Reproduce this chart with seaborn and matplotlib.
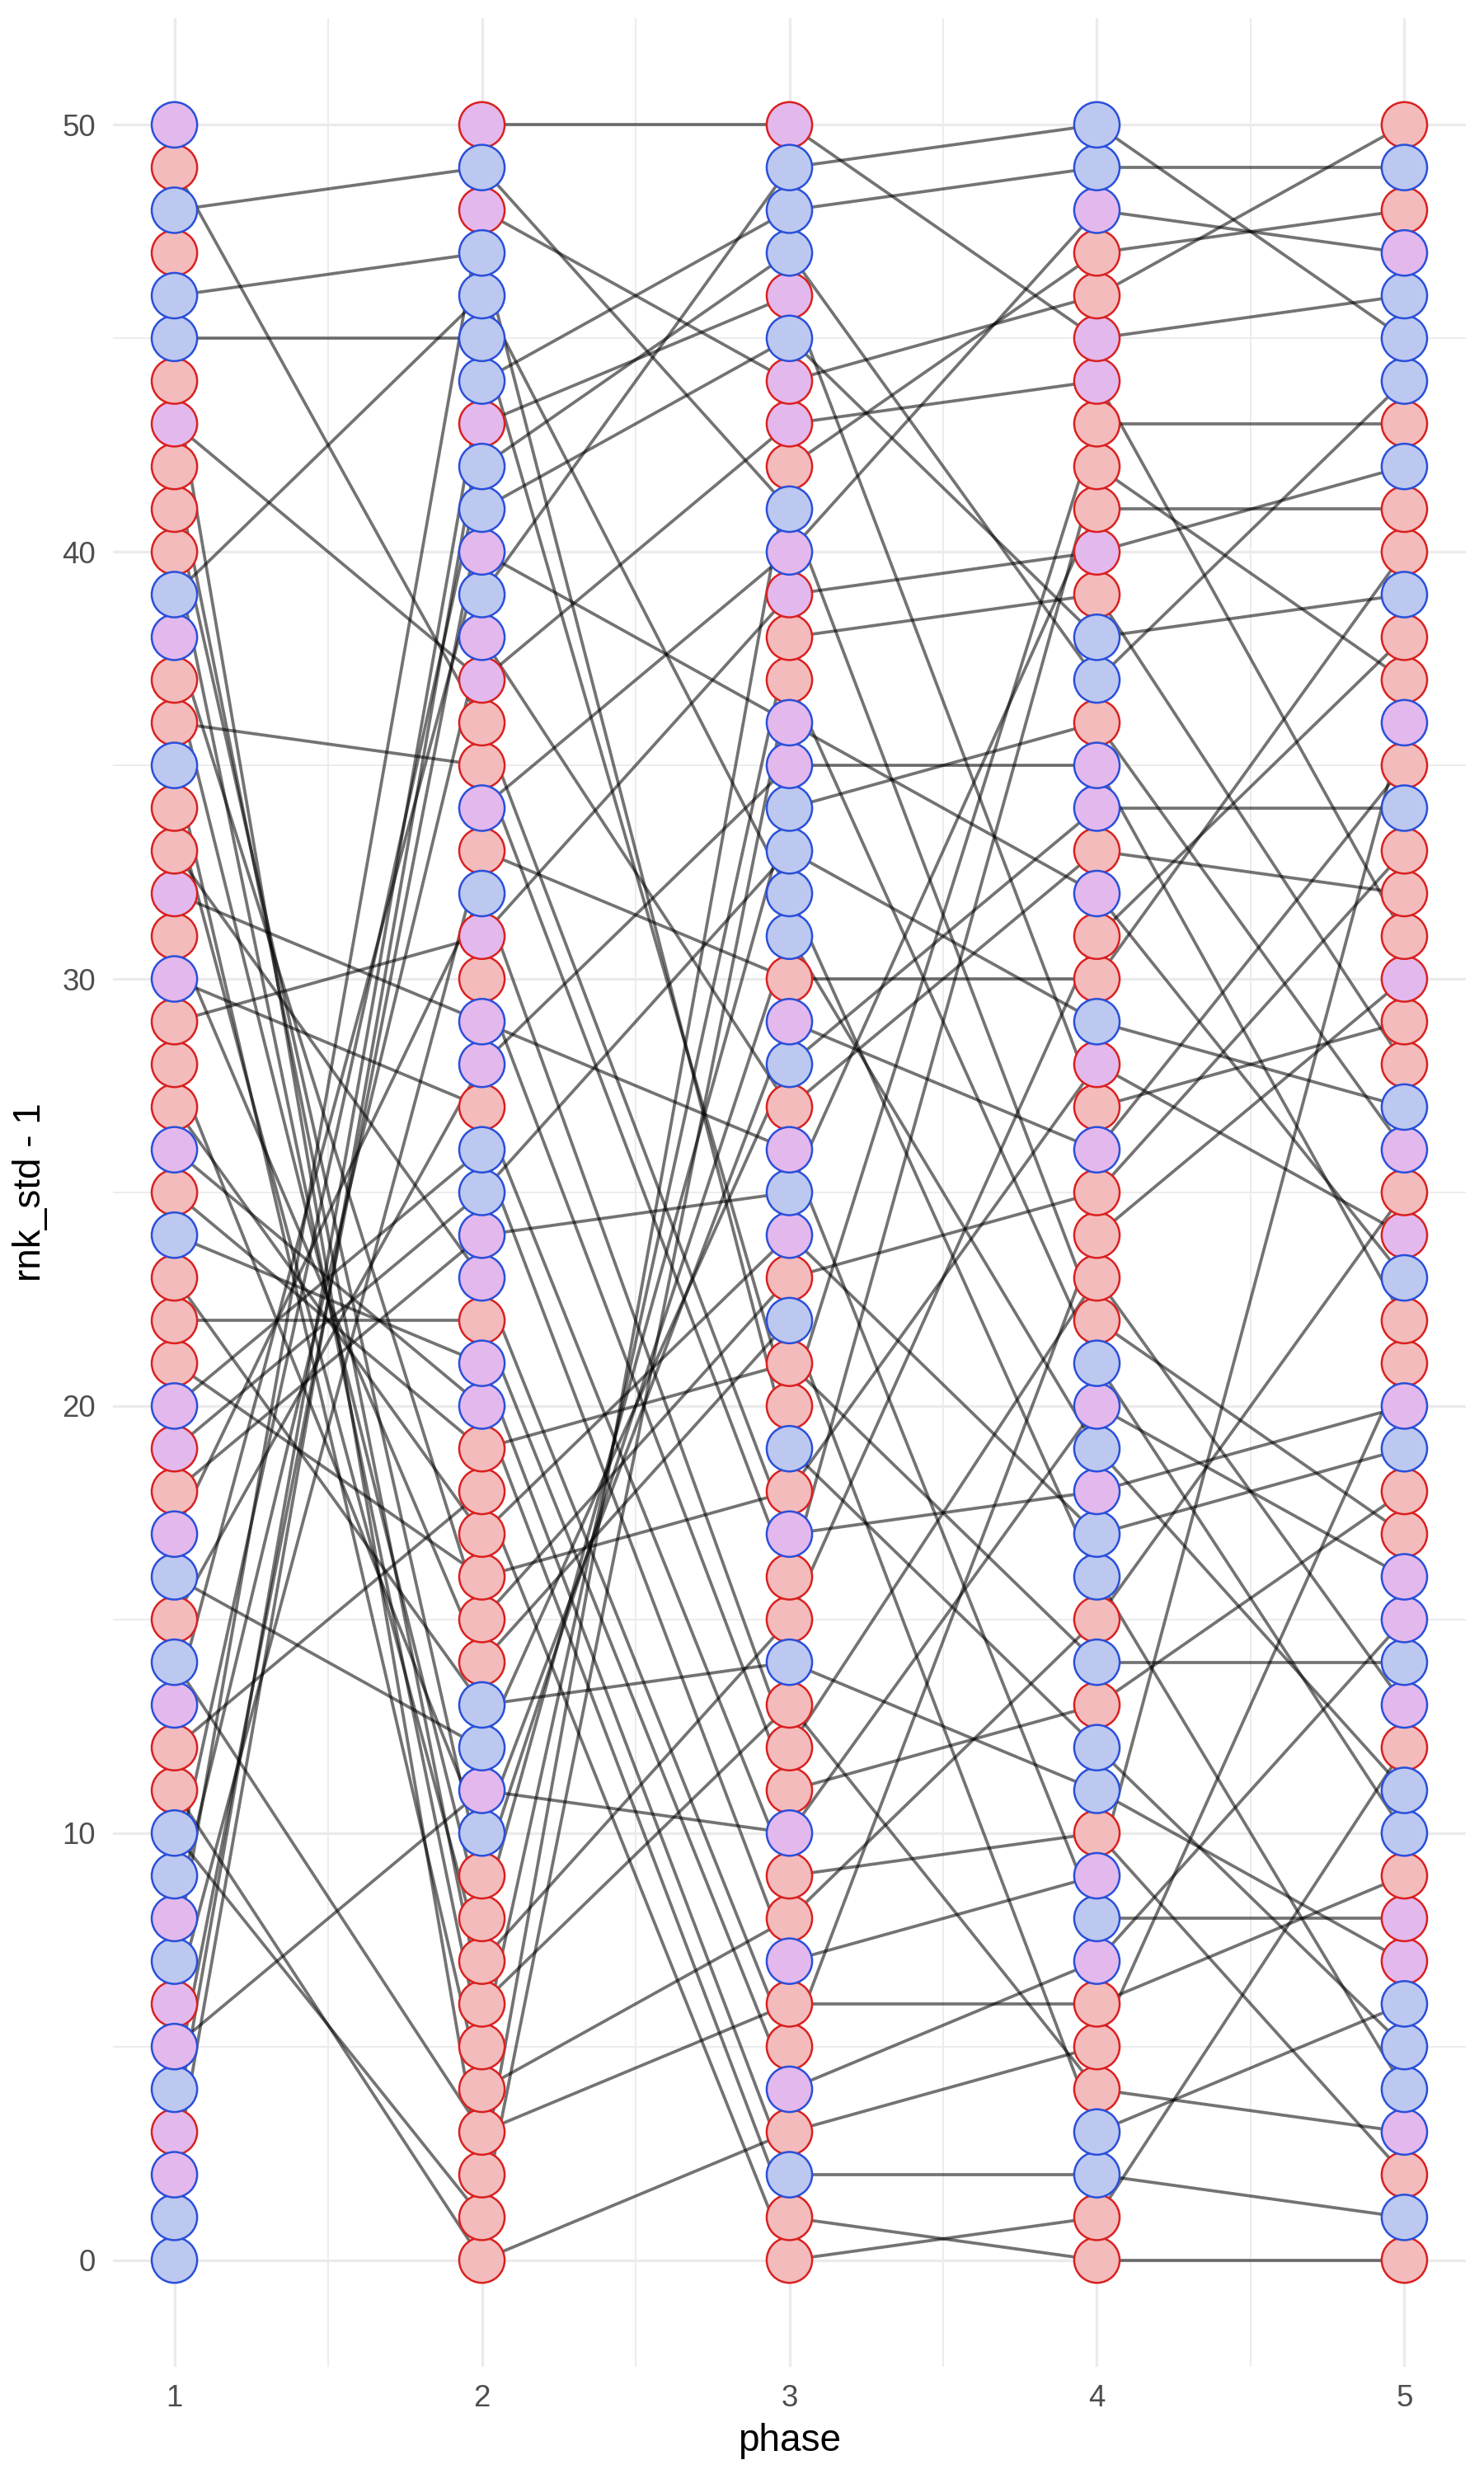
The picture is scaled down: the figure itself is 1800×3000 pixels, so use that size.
import numpy as np
import pandas as pd
import matplotlib
matplotlib.use("Agg")
import matplotlib.pyplot as plt
import seaborn as sns

# ---------------- data ----------------
phases = [1, 2, 3, 4, 5]
ranks = list(range(51))

# fill category per rank (rank 0 -> 50); P = pink, B = blue, U = purple
fill_p1 = list("BBUUBUUBUBB" "PPUBPBUPUU" "PPPBPUPPPU" "PUPPBPPUBP" "PPUPBBPBPU")
fill_p2 = list("PPPPPPPPPPB" "UBBPPPPPPU" "UPUUBBPUUP" "UBPUPPUUBU" "BBUBBBBUBU")
fill_p3 = list("PPBPUPPUPPU" "PPPBPPUPBP" "PBPUBUPBUP" "BBBBUUPPUU" "BPUUBUBBBU")
fill_p4 = list("PPBBPPPUBUP" "BBPBPBBUBU" "BPPPPUPUBP" "PUPUUPBBPU" "PPPUUPPUBB")
fill_p5 = list("PBPUBBBUUPB" "BPUBUUPPBU" "PPBUPUBPPU" "PPPBPUPPBP" "PBPBBBUPBP")

# outline category per rank (rank 0 -> 50); r = red, b = blue
edge_p1 = list("bbbrbbrbbbb" "rrbbrbbrrb" "rrrbrbrrrb" "rrrrbrrbbr" "rrrrbbrbrb")
edge_p2 = list("rrrrrrrrrrb" "bbbrrrrrrb" "brbbbbrbbr" "rbrbrrrbbb" "bbrbbbbrbr")
edge_p3 = list("rrbrbrrbrrb" "rrrbrrbrbr" "rbrbbbrbbr" "bbbbbbrrrb" "brrrbrbbbr")
edge_p4 = list("rrbbrrrbbbr" "bbrbrbbbbb" "brrrrbrrbr" "rbrbbrbbrr" "rrrrrrrbbb")
edge_p5 = list("rbrbbbbrrrb" "brbbbbrrbb" "rrbrrbbrrr" "rrrbrbrrbr" "rbrbbbbrbr")

# connections between consecutive phases: rank in phase k -> rank in phase k+1
gap1_from = [49, 48, 46, 45, 43, 39, 36, 24, 23, 16, 14, 13, 10, 18, 5, 30, 32, 26, 21,
             2, 3, 4, 6, 7, 8, 9, 11, 12, 15, 17,
             44, 42, 41, 40, 38, 37, 35, 34, 31, 29, 28, 27, 25, 22, 20, 19, 33]
gap1_to = [36, 49, 47, 45, 37, 46, 35, 21, 13, 12, 3, 40, 1, 24, 11, 27, 29, 20, 16,
           43, 44, 41, 33, 48, 38, 42, 0, 18, 28, 32,
           2, 6, 9, 5, 15, 8, 4, 7, 14, 31, 10, 17, 19, 22, 26, 25, 23]

gap2_from = [50, 49, 48, 46, 44, 43, 42, 41, 39, 37, 40, 34, 31, 33, 29, 24, 19, 16, 15,
             13, 11, 4, 3, 0, 28, 25, 45,
             47, 38, 36, 35, 32, 30, 27, 26, 23, 22, 21, 20, 18, 17, 14, 12, 10, 9, 8, 7,
             6, 5, 2, 1]
gap2_to = [50, 41, 44, 32, 48, 46, 47, 45, 49, 43, 36, 40, 39, 30, 26, 25, 21, 18, 23,
           14, 10, 8, 6, 3, 35, 33, 20,
           19, 27, 17, 16, 12, 11, 9, 7, 5, 4, 2, 1, 0, 24, 22, 28, 29, 31, 34, 15,
           13, 38, 42, 37]

gap3_from = [50, 49, 48, 47, 45, 43, 42, 40, 39, 38, 35, 30, 33, 36, 29, 27, 24, 23, 21,
             19, 17, 14, 13, 11, 9, 8, 7, 6, 4, 3, 2, 1, 0,
             12, 10, 5, 22, 26,
             20, 16, 15, 18, 46, 41, 37, 32, 31, 44, 25, 28, 34]
gap3_to = [45, 50, 49, 37, 38, 44, 47, 48, 40, 39, 35, 30, 29, 32, 26, 33, 17, 25, 14,
           12, 18, 11, 4, 13, 10, 15, 9, 6, 7, 5, 2, 0, 1,
           23, 20, 24, 3, 8,
           43, 42, 31, 28, 27, 22, 21, 16, 19, 46, 41, 34, 36]

gap4_from = [50, 49, 48, 47, 46, 45, 44, 43, 42, 41, 40, 39, 38, 37, 36, 35, 34, 33, 32,
             31, 30, 29, 28, 27, 26, 25, 24, 23, 22, 21, 20, 19, 18, 17, 16, 15, 14, 13,
             12, 11, 10, 9, 8, 7, 6, 5, 4, 3, 2, 1, 0]
gap4_to = [45, 49, 47, 48, 50, 46, 31, 43, 37, 41, 42, 28, 39, 44, 26, 22, 34, 32, 23,
           38, 40, 27, 24, 29, 35, 33, 30, 13, 17, 10, 16, 11, 20, 19, 4, 25, 14, 18,
           5, 7, 2, 36, 8, 15, 9, 21, 3, 6, 1, 12, 0]

fill_colors = {"P": "#F3BBBB", "B": "#BCC8F0", "U": "#E3B8EC"}
edge_colors = {"r": "#DA2020", "b": "#2A4FD9"}

# ---------------- tables ----------------
fills = [fill_p1, fill_p2, fill_p3, fill_p4, fill_p5]
edges = [edge_p1, edge_p2, edge_p3, edge_p4, edge_p5]
pts = pd.DataFrame({
    "phase": np.repeat(phases, len(ranks)),
    "rank": np.tile(ranks, len(phases)),
    "fill": sum(fills, []),
    "edge": sum(edges, []),
})

gaps = [(gap1_from, gap1_to), (gap2_from, gap2_to), (gap3_from, gap3_to), (gap4_from, gap4_to)]
rows = []
seg = 0
for k, (fr, to) in enumerate(gaps):
    for a, b in zip(fr, to):
        rows.append((seg, phases[k], a))
        rows.append((seg, phases[k + 1], b))
        seg += 1
segs = pd.DataFrame(rows, columns=["seg", "phase", "rank"])

# ---------------- plot ----------------
sns.set_theme(style="white")
plt.rcParams["font.family"] = ["Liberation Sans", "DejaVu Sans"]

fig, ax = plt.subplots(figsize=(6, 10), dpi=300)
fig.subplots_adjust(left=0.0761, right=0.9878, bottom=0.0433, top=0.9927)

sns.lineplot(data=segs, x="phase", y="rank", units="seg", estimator=None, sort=False,
             color="black", alpha=0.55, linewidth=0.9, ax=ax, zorder=2)

for e, ecol in edge_colors.items():
    sub = pts[pts["edge"] == e]
    sns.scatterplot(data=sub, x="phase", y="rank", hue="fill", palette=fill_colors,
                    edgecolor=ecol, linewidth=0.6, s=175, legend=False, ax=ax, zorder=3)

ax.set_xlim(0.8, 5.2)
ax.set_ylim(-2.5, 52.5)
ax.set_xticks(phases)
ax.set_xticks([1.5, 2.5, 3.5, 4.5], minor=True)
ax.set_yticks([0, 10, 20, 30, 40, 50])
ax.set_yticks([5, 15, 25, 35, 45], minor=True)
ax.grid(which="major", color="#EBEBEB", linewidth=0.8)
ax.grid(which="minor", color="#EBEBEB", linewidth=0.45)
ax.set_axisbelow(True)
for s in ax.spines.values():
    s.set_visible(False)
ax.tick_params(which="both", length=0)
ax.tick_params(axis="both", labelsize=8.8, labelcolor="#4D4D4D", pad=5)
ax.set_xlabel("phase", fontsize=11, color="black", labelpad=3)
ax.set_ylabel("rnk_std - 1", fontsize=11, color="black", labelpad=4)

fig.savefig("out.png", dpi=300)
